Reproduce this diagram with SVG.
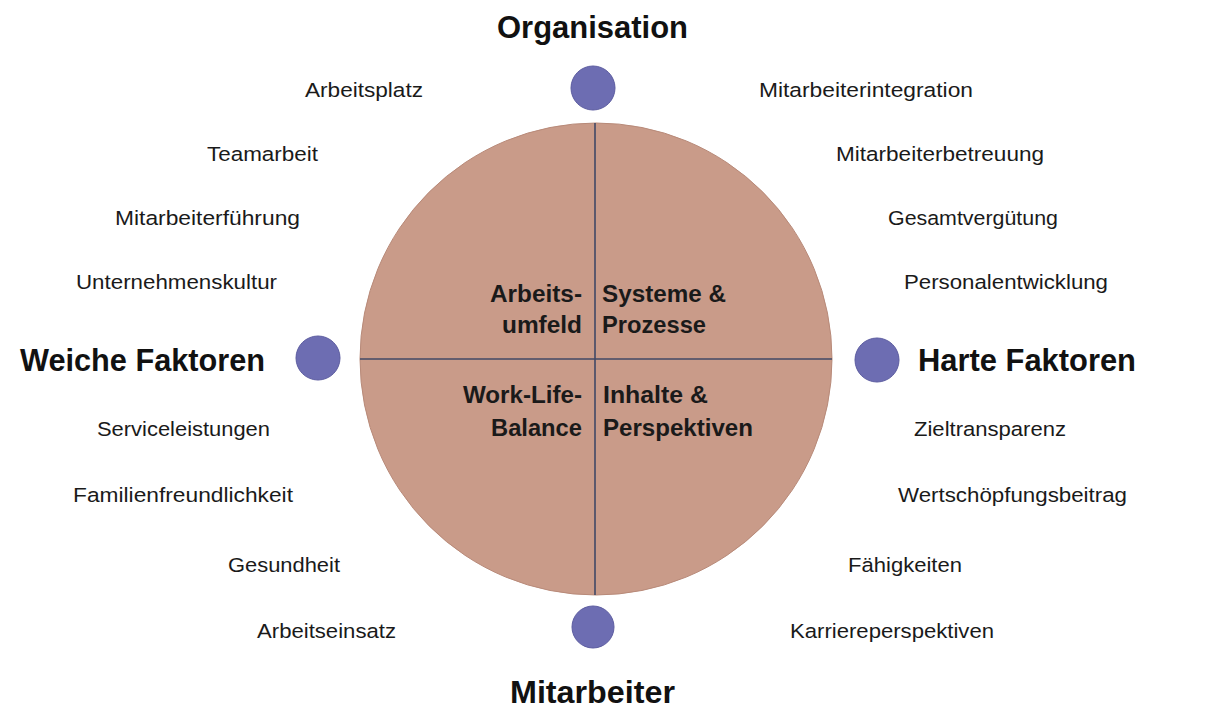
<svg xmlns="http://www.w3.org/2000/svg" width="1213" height="728" viewBox="0 0 1213 728">
<defs>
<style>
.lbl{font-family:"Liberation Sans",Arial,sans-serif;font-size:20.5px;fill:#1a1a1a}
.ttl{font-family:"Liberation Sans",Arial,sans-serif;font-size:31px;font-weight:bold;fill:#111}
.ctr{font-family:"Liberation Sans",Arial,sans-serif;font-size:23px;font-weight:bold;fill:#1a1a1a}
.dot{fill:#6d6db2;stroke:#5c5ca0;stroke-width:1}
.axis{stroke:#414866;stroke-width:1.6;fill:none}
</style>
</defs>
<rect width="1213" height="728" fill="#fff"/>
<g id="main-circle">
<circle cx="596" cy="359" r="236" fill="#c99b89" stroke="#b88a79" stroke-width="1"/>
</g>
<g id="connectors">
<line class="axis" x1="595" y1="123" x2="595" y2="595"/>
<line class="axis" x1="360" y1="359" x2="832" y2="359"/>
</g>
<g id="quadrant-labels">
<text class="ctr" x="582" y="302" text-anchor="end" textLength="92" lengthAdjust="spacingAndGlyphs">Arbeits-</text>
<text class="ctr" x="582" y="333" text-anchor="end" textLength="80" lengthAdjust="spacingAndGlyphs">umfeld</text>
<text class="ctr" x="602" y="302" textLength="124" lengthAdjust="spacingAndGlyphs">Systeme &amp;</text>
<text class="ctr" x="602" y="333" textLength="104" lengthAdjust="spacingAndGlyphs">Prozesse</text>
<text class="ctr" x="582" y="403" text-anchor="end" textLength="119" lengthAdjust="spacingAndGlyphs">Work-Life-</text>
<text class="ctr" x="582" y="436" text-anchor="end" textLength="91" lengthAdjust="spacingAndGlyphs">Balance</text>
<text class="ctr" x="603" y="403" textLength="105" lengthAdjust="spacingAndGlyphs">Inhalte &amp;</text>
<text class="ctr" x="603" y="436" textLength="150" lengthAdjust="spacingAndGlyphs">Perspektiven</text>
</g>
<g id="node-organisation">
<circle class="dot" cx="593" cy="88" r="22"/>
<text class="ttl" x="497" y="38" textLength="191" lengthAdjust="spacingAndGlyphs">Organisation</text>
</g>
<g id="node-weiche">
<circle class="dot" cx="318" cy="358" r="22"/>
<text class="ttl" x="20" y="371" textLength="245" lengthAdjust="spacingAndGlyphs">Weiche Faktoren</text>
</g>
<g id="node-harte">
<circle class="dot" cx="877" cy="360" r="22"/>
<text class="ttl" x="918" y="371" textLength="218" lengthAdjust="spacingAndGlyphs">Harte Faktoren</text>
</g>
<g id="node-mitarbeiter">
<circle class="dot" cx="593" cy="627" r="21"/>
<text class="ttl" x="510" y="703" textLength="165" lengthAdjust="spacingAndGlyphs">Mitarbeiter</text>
</g>
<g id="left-labels">
<text class="lbl" x="305" y="97" textLength="118" lengthAdjust="spacingAndGlyphs">Arbeitsplatz</text>
<text class="lbl" x="207" y="161" textLength="111" lengthAdjust="spacingAndGlyphs">Teamarbeit</text>
<text class="lbl" x="115" y="225" textLength="185" lengthAdjust="spacingAndGlyphs">Mitarbeiterführung</text>
<text class="lbl" x="76" y="289" textLength="201" lengthAdjust="spacingAndGlyphs">Unternehmenskultur</text>
<text class="lbl" x="97" y="436" textLength="173" lengthAdjust="spacingAndGlyphs">Serviceleistungen</text>
<text class="lbl" x="73" y="502" textLength="220" lengthAdjust="spacingAndGlyphs">Familienfreundlichkeit</text>
<text class="lbl" x="228" y="572" textLength="112" lengthAdjust="spacingAndGlyphs">Gesundheit</text>
<text class="lbl" x="257" y="638" textLength="139" lengthAdjust="spacingAndGlyphs">Arbeitseinsatz</text>
</g>
<g id="right-labels">
<text class="lbl" x="759" y="97" textLength="214" lengthAdjust="spacingAndGlyphs">Mitarbeiterintegration</text>
<text class="lbl" x="836" y="161" textLength="208" lengthAdjust="spacingAndGlyphs">Mitarbeiterbetreuung</text>
<text class="lbl" x="888" y="225" textLength="170" lengthAdjust="spacingAndGlyphs">Gesamtvergütung</text>
<text class="lbl" x="904" y="289" textLength="204" lengthAdjust="spacingAndGlyphs">Personalentwicklung</text>
<text class="lbl" x="914" y="436" textLength="152" lengthAdjust="spacingAndGlyphs">Zieltransparenz</text>
<text class="lbl" x="898" y="502" textLength="229" lengthAdjust="spacingAndGlyphs">Wertschöpfungsbeitrag</text>
<text class="lbl" x="848" y="572" textLength="114" lengthAdjust="spacingAndGlyphs">Fähigkeiten</text>
<text class="lbl" x="790" y="638" textLength="204" lengthAdjust="spacingAndGlyphs">Karriereperspektiven</text>
</g>
</svg>
